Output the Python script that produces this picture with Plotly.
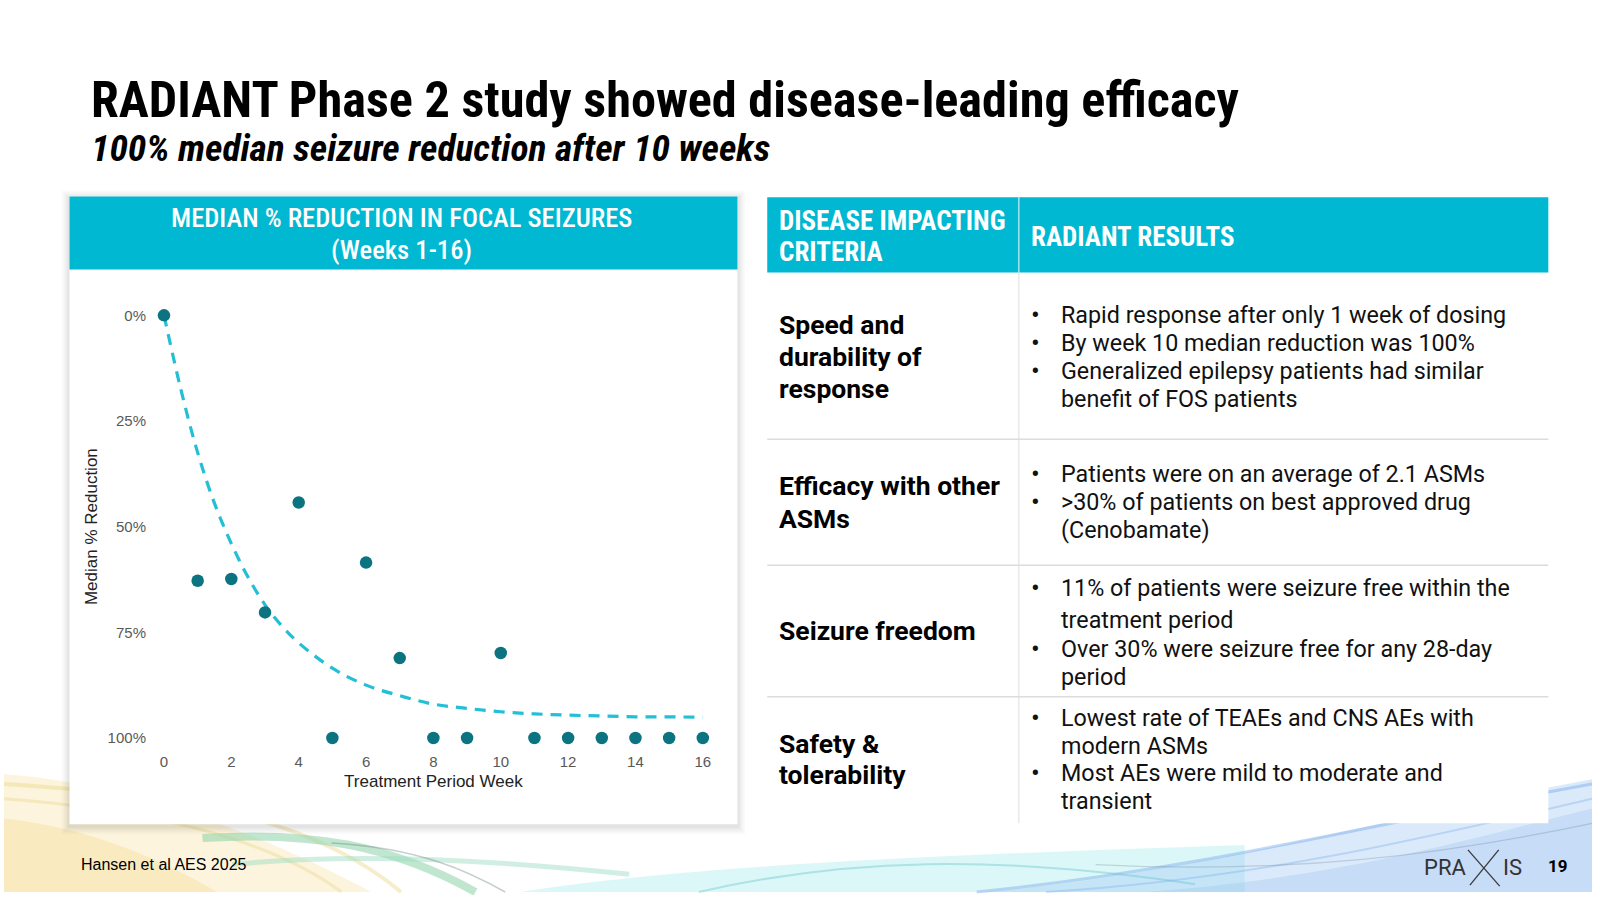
import plotly.graph_objects as go

W, H = 1600, 900

# ---------------- data ----------------
weeks = list(range(17))
median_reduction = [0, 62.8, 62.4, 70.3, 44.3, 100, 58.5, 81.1, 100, 100,
                    79.9, 100, 100, 100, 100, 100, 100]
trend_weeks = [0, 0.5, 1, 1.5, 2, 2.5, 3, 3.5, 4, 5, 6, 7, 8, 9, 10,
               11, 12, 13, 14, 15, 16]
trend_values = [0, 17.5, 32.5, 44.5, 54, 62, 68.5, 73.5, 77.5, 83.5, 87.5,
                90, 92, 93, 93.8, 94.3, 94.6, 94.8, 95, 95, 95.1]
x_ticks = [0, 2, 4, 6, 8, 10, 12, 14, 16]
y_ticks = [0, 25, 50, 75, 100]
y_tick_labels = ["0%", "25%", "50%", "75%", "100%"]

title = "RADIANT Phase 2 study showed disease-leading efficacy"
subtitle = "100% median seizure reduction after 10 weeks"
chart_header = ["MEDIAN % REDUCTION IN FOCAL SEIZURES", "(Weeks 1-16)"]
x_title = "Treatment Period Week"
y_title = "Median % Reduction"
table_headers = [["DISEASE IMPACTING", "CRITERIA"], ["RADIANT RESULTS"]]
criteria = [
    ["Speed and", "durability of", "response"],
    ["Efficacy with other", "ASMs"],
    ["Seizure freedom"],
    ["Safety &", "tolerability"],
]
results = [
    [(True, "Rapid response after only 1 week of dosing"),
     (True, "By week 10 median reduction was 100%"),
     (True, "Generalized epilepsy patients had similar"),
     (False, "benefit of FOS patients")],
    [(True, "Patients were on an average of 2.1 ASMs"),
     (True, ">30% of patients on best approved drug"),
     (False, "(Cenobamate)")],
    [(True, "11% of patients were seizure free within the"),
     (False, "treatment period"),
     (True, "Over 30% were seizure free for any 28-day"),
     (False, "period")],
    [(True, "Lowest rate of TEAEs and CNS AEs with"),
     (False, "modern ASMs"),
     (True, "Most AEs were mild to moderate and"),
     (False, "transient")],
]
footnote = "Hansen et al AES 2025"
page_number = "19"

# ---------------- layout positions (pixels) ----------------
criteria_line_y = [[322, 354, 387], [486, 519], [633], [749, 780]]
result_line_y = [[312, 340, 369, 397], [474, 503, 531],
                 [590, 623, 652, 681], [723, 751, 779, 807]]

TEAL = "#00B8D1"
DOT = "#0C7380"
DASH = "#22BFD6"
COND = "Roboto Condensed, Liberation Sans Narrow, Arial Narrow, Roboto, sans-serif"
BODY = "Roboto, sans-serif"
CHART = "Liberation Sans, Arial, sans-serif"


def px(x):
    return x / W


def py(y):
    return 1 - y / H


def pth(cmds):
    out = []
    for c in cmds:
        if isinstance(c, str):
            out.append(c)
        else:
            out.append(f"{px(c[0]):.5f},{py(c[1]):.5f}")
    return " ".join(out)


fig = go.Figure()

fig.add_trace(go.Scatter(
    x=trend_weeks, y=trend_values, mode="lines",
    line=dict(color=DASH, width=3.2, dash="11px,8px", shape="spline"),
    cliponaxis=False, hoverinfo="skip", showlegend=False))
fig.add_trace(go.Scatter(
    x=weeks, y=median_reduction, mode="markers",
    marker=dict(color=DOT, size=12.5, line=dict(width=0)),
    cliponaxis=False, showlegend=False))

shapes = []
# background decorative waves
waves = [
    (["M", (0, 780), "C", (120, 788), (260, 840), (370, 900), "L", (0, 900), "Z"], "rgba(247,226,162,0.38)"),
    (["M", (0, 825), "C", (90, 835), (160, 868), (215, 900), "L", (0, 900), "Z"], "rgba(245,215,140,0.35)"),
    (["M", (520, 900), "C", (700, 872), (950, 862), (1250, 852), "L", (1250, 900), "Z"], "rgba(120,225,228,0.26)"),
    (["M", (990, 900), "C", (1200, 882), (1400, 822), (1600, 785), "L", (1600, 900), "Z"], "rgba(160,200,245,0.38)"),
    (["M", (1150, 900), "C", (1350, 885), (1480, 845), (1600, 815), "L", (1600, 900), "Z"], "rgba(150,190,240,0.30)"),
]
for p, fill in waves:
    shapes.append(dict(type="path", xref="paper", yref="paper", path=pth(p),
                       fillcolor=fill, line=dict(width=0), layer="below"))
strands = [
    (["M", (0, 790), "C", (150, 800), (300, 815), (400, 900)], "rgba(236,214,140,0.45)", 4),
    (["M", (0, 805), "C", (130, 815), (260, 840), (340, 900)], "rgba(236,214,140,0.40)", 3),
    (["M", (200, 845), "C", (310, 838), (390, 852), (475, 900)], "rgba(140,210,170,0.55)", 8),
    (["M", (230, 872), "C", (350, 860), (500, 868), (630, 882)], "rgba(150,220,190,0.45)", 5),
    (["M", (330, 850), "C", (420, 855), (470, 880), (505, 900)], "rgba(90,120,115,0.35)", 1.5),
    (["M", (700, 900), "C", (850, 865), (1000, 862), (1200, 892)], "rgba(80,190,200,0.35)", 2),
    (["M", (980, 900), "C", (1200, 878), (1400, 826), (1600, 790)], "rgba(120,170,235,0.45)", 3),
    (["M", (1050, 900), "C", (1250, 888), (1420, 848), (1600, 805)], "rgba(130,180,235,0.40)", 2),
    (["M", (1100, 872), "C", (1300, 882), (1450, 862), (1600, 830)], "rgba(90,110,140,0.25)", 1.2),
]
for p, col, w in strands:
    shapes.append(dict(type="path", xref="paper", yref="paper", path=pth(p),
                       line=dict(color=col, width=w), layer="below"))

# left card shadow + card
CL, CR, CT, CH, CB = 66, 739, 191, 265.5, 831
for i, a in enumerate([0.02, 0.025, 0.03, 0.035]):
    d = 8 - 2 * i
    shapes.append(dict(type="rect", xref="paper", yref="paper",
                       x0=px(CL - d), x1=px(CR + d), y0=py(CB + d + 2), y1=py(CT - d + 2),
                       fillcolor=f"rgba(0,0,0,{a})", line=dict(width=0), layer="below"))
shapes.append(dict(type="rect", xref="paper", yref="paper",
                   x0=px(CL), x1=px(CR), y0=py(CB), y1=py(CT),
                   fillcolor="white", line=dict(width=0), layer="below"))
shapes.append(dict(type="rect", xref="paper", yref="paper",
                   x0=px(CL), x1=px(CR), y0=py(CH), y1=py(CT),
                   fillcolor=TEAL, line=dict(width=0), layer="below"))

# table
TL, TM, TR, TT, THB, TB = 769, 1022.5, 1556, 192, 268.5, 830
shapes.append(dict(type="rect", xref="paper", yref="paper",
                   x0=px(TL), x1=px(TR), y0=py(TB), y1=py(THB),
                   fillcolor="white", line=dict(width=0), layer="below"))
shapes.append(dict(type="rect", xref="paper", yref="paper",
                   x0=px(TL), x1=px(TR), y0=py(THB), y1=py(TT),
                   fillcolor=TEAL, line=dict(width=0), layer="below"))
shapes.append(dict(type="line", xref="paper", yref="paper",
                   x0=px(TM), x1=px(TM), y0=py(THB), y1=py(TT),
                   line=dict(color="rgba(255,255,255,0.8)", width=1.2)))
shapes.append(dict(type="line", xref="paper", yref="paper",
                   x0=px(TM), x1=px(TM), y0=py(TB), y1=py(THB),
                   line=dict(color="#E3E3E3", width=1.2)))
for ys in [438.5, 567, 701]:
    shapes.append(dict(type="line", xref="paper", yref="paper",
                       x0=px(TL), x1=px(TR), y0=py(ys), y1=py(ys),
                       line=dict(color="#DCDCDC", width=1.5)))

# logo X
shapes.append(dict(type="line", xref="paper", yref="paper",
                   x0=px(1475), x1=px(1507), y0=py(857), y1=py(894),
                   line=dict(color="#3A3A3A", width=1.3)))
shapes.append(dict(type="line", xref="paper", yref="paper",
                   x0=px(1506), x1=px(1477), y0=py(857), y1=py(893),
                   line=dict(color="#3A3A3A", width=1.3)))

ann = []


def text(x, y, s, size, color="#111111", family=BODY, weight=None, anchor="left", italic=False):
    f = dict(size=size, color=color, family=family)
    if weight:
        f["weight"] = weight
    if italic:
        f["style"] = "italic"
    ann.append(dict(x=px(x), y=py(y), xref="paper", yref="paper", text=s,
                    showarrow=False, xanchor=anchor, yanchor="middle",
                    font=f, align=anchor if anchor != "center" else "center"))


text(86, 92, title, 50.3, "#000000", COND, 700)
text(86, 142, subtitle, 37.5, "#000000", COND, 700, italic=True)

text(400, 213, chart_header[0], 26.6, "white", COND, 500, "center")
text(400, 245, chart_header[1], 26.6, "white", COND, 500, "center")

text(779, 216, table_headers[0][0], 27, "white", COND, 700)
text(779, 248, table_headers[0][1], 27, "white", COND, 700)
text(1033, 232, table_headers[1][0], 27, "white", COND, 700)

for lines, ys in zip(criteria, criteria_line_y):
    for s, y in zip(lines, ys):
        text(779, y, s, 26.5, "#000000", BODY, 700)

for items, ys in zip(results, result_line_y):
    for (bul, s), y in zip(items, ys):
        if bul:
            text(1033, y, "•", 26, "#111111", BODY)
        text(1063, y, s, 23.3, "#111111", BODY)

text(76, 872, footnote, 16, "#000000", CHART)
text(1475, 875, "PRA", 22, "#333333", BODY, 400, "right")
text(1508, 875, "IS", 22, "#333333", BODY, 400, "left")
text(1566, 874, page_number, 17, "#000000", BODY, 700, "center")

fig.update_layout(
    width=W, height=H,
    margin=dict(l=0, r=0, t=0, b=0),
    paper_bgcolor="white", plot_bgcolor="rgba(0,0,0,0)",
    shapes=shapes, annotations=ann, showlegend=False,
    xaxis=dict(domain=[px(161.2), px(704.1)], range=[0, 16], tickvals=x_ticks,
               showgrid=False, zeroline=False, showline=False, ticks="",
               tickfont=dict(family=CHART, size=15, color="#595959"),
               ticklabelstandoff=13,
               title=dict(text=x_title, standoff=6,
                          font=dict(family=CHART, size=17, color="#222222"))),
    yaxis=dict(domain=[py(743), py(312.2)], range=[100, 0], tickvals=y_ticks,
               ticktext=y_tick_labels,
               showgrid=False, zeroline=False, showline=False, ticks="",
               tickfont=dict(family=CHART, size=15, color="#595959"),
               ticklabelstandoff=17,
               title=dict(text=y_title, standoff=5,
                          font=dict(family=CHART, size=17, color="#222222"))),
)

fig.write_html("out.html", config={"displayModeBar": False},
               post_script="document.body.style.margin='0';document.body.style.overflow='hidden';")
